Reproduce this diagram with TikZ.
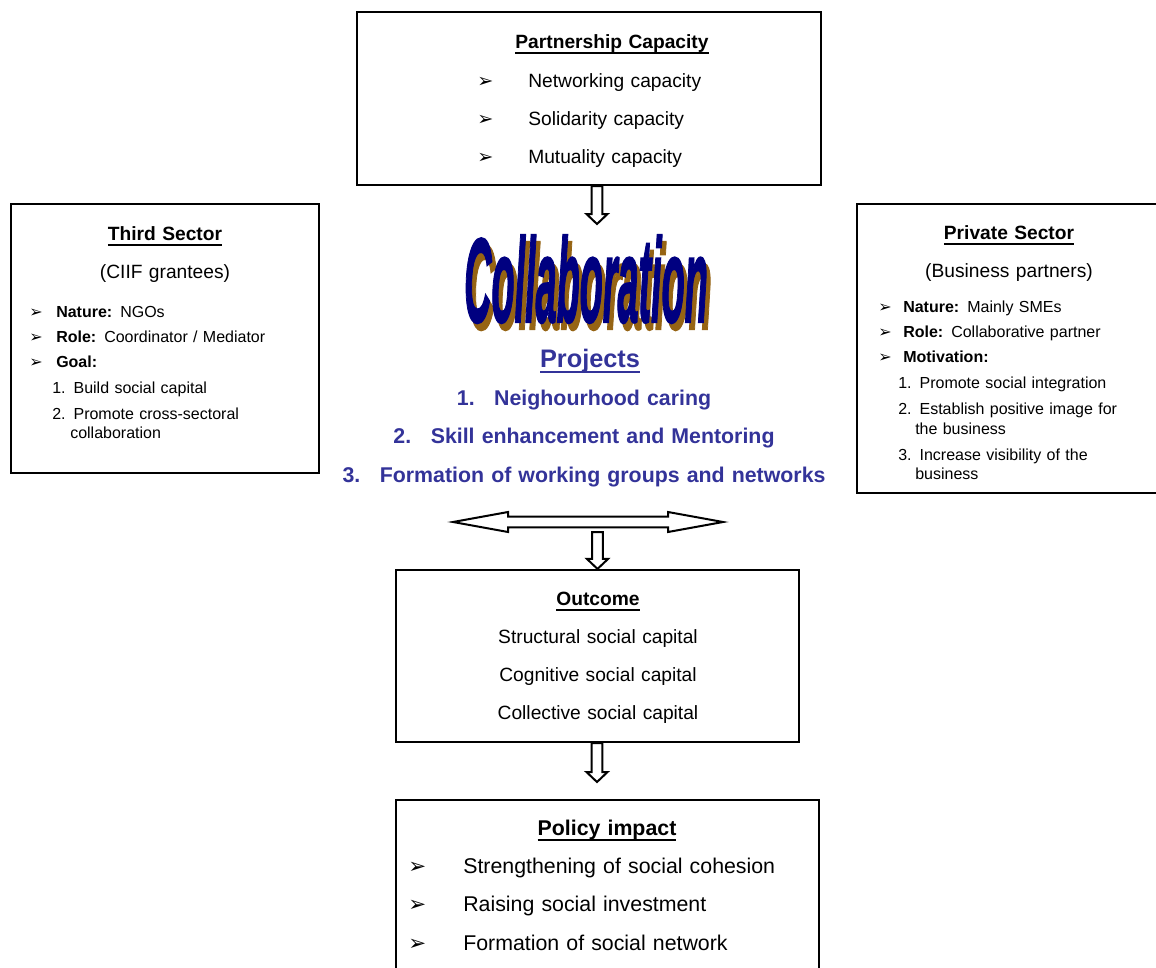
\documentclass[tikz,border=0pt]{standalone}
\usepackage{fontspec}
\setmainfont{Liberation Sans}
\newfontfamily\dingfont{DejaVu Sans}
\newfontfamily\artfont{Liberation Sans}[FakeBold=2]
\usepackage{xcolor}
\usetikzlibrary{fit,calc}

\definecolor{projblue}{RGB}{51,51,153}
\definecolor{artnavy}{RGB}{0,0,128}
\definecolor{artbrown}{RGB}{150,100,20}

\newcommand{\uln}[1]{\setbox0\hbox{#1}\rlap{\rule[-4.2pt]{\wd0}{1.1pt}}\box0}
\newcommand{\bul}{{\dingfont\char"27A2}}
\newcommand{\bitem}[1]{\makebox[#1][l]{\bul}}
\newcommand{\artword}{\scalebox{0.63}[2.0]{\artfont\fontsize{45}{45}\selectfont\bfseries\itshape Collaboration}}
\newcommand{\hollowdown}[2]{%
  \draw[hollow] let \p1=(#1), \p2=(#2) in
    (\x2-4.1pt,\y1) -- (\x2+4.1pt,\y1) -- (\x2+4.1pt,\y2+7.5pt) -- (\x2+7.9pt,\y2+7.5pt)
    -- (\x2,\y2) -- (\x2-7.9pt,\y2+7.5pt) -- (\x2-4.1pt,\y2+7.5pt) -- cycle;}

\begin{document}
\begin{tikzpicture}[x=0.75pt, y=-0.75pt,
  frame/.style={draw, line width=1.6pt, inner sep=0pt},
  head/.style={anchor=base, align=center, text width=300pt, inner sep=0pt, font=\fontsize{14.4}{29}\selectfont},
  list/.style={anchor=base west, align=left, text width=300pt, inner sep=0pt},
  side/.style={list, font=\fontsize{12}{14.6}\selectfont},
  hollow/.style={draw, line width=1.5pt, fill=white, line join=miter}]
  \useasboundingbox (0,0) rectangle (1156,967);

  \node[frame, fit={(357,12) (821,185)}] (cap) {};
  \node[head] (capt) at (612,48) {\uln{\textbf{Partnership Capacity}}};
  \node[list, font=\fontsize{14.4}{28.7}\selectfont] (capl) at (477,87) {\bitem{38.25pt}Networking capacity\\ \bitem{38.25pt}Solidarity capacity\\ \bitem{38.25pt}Mutuality capacity};

  \node[frame, fit={(11,204) (319,473)}] (third) {};
  \node[head] (thirdt) at (165,240) {\uln{\textbf{Third Sector}}\\ (CIIF grantees)};
  \node[side] (thirdl) at (29,317) {\bitem{20.25pt}\textbf{Nature:} NGOs\\[4.2pt] \bitem{20.25pt}\textbf{Role:} Coordinator / Mediator\\[4.2pt] \bitem{20.25pt}\textbf{Goal:}\\[4.9pt] \hspace*{17.25pt}1. Build social capital\\[4.9pt] \hspace*{17.25pt}2. Promote cross-sectoral\\ \hspace*{30.75pt}collaboration};

  \node[frame, fit={(857,204) (1161,493)}] (priv) {};
  \node[head] (privt) at (1009,239) {\uln{\textbf{Private Sector}}\\ (Business partners)};
  \node[side] (privl) at (878,312) {\bitem{18.75pt}\textbf{Nature:} Mainly SMEs\\[4.2pt] \bitem{18.75pt}\textbf{Role:} Collaborative partner\\[4.2pt] \bitem{18.75pt}\textbf{Motivation:}\\[5.4pt] \hspace*{15pt}1. Promote social integration\\[4.9pt] \hspace*{15pt}2. Establish positive image for\\ \hspace*{27.75pt}the business\\[4.9pt] \hspace*{15pt}3. Increase visibility of the\\ \hspace*{27.75pt}business};

  \node[anchor=base, inner sep=0pt, text=artbrown] (artsh) at (590,329) {\artword};
  \node[anchor=base, inner sep=0pt, text=artnavy] (art) at (586,322) {\artword};
  \node[anchor=base, inner sep=0pt, text=projblue, font=\fontsize{19}{19}\selectfont\bfseries] (proj) at (590,367) {\uln{Projects}};
  \node[head, text width=400pt, text=projblue, font=\fontsize{16}{28.9}\selectfont\bfseries] (projl) at (584,405) {\makebox[28pt][l]{1.}Neighourhood caring\\ \makebox[28pt][l]{2.}Skill enhancement and Mentoring\\ \makebox[28pt][l]{3.}Formation of working groups and networks};

  \coordinate (lkl) at (453,522);
  \coordinate (lkr) at (723,522);
  \draw[hollow] let \p1=(lkl), \p2=(lkr) in (\p1) -- (\x1+41.25pt,\y1+7.5pt) -- (\x1+41.25pt,\y1+4.1pt) -- (\x2-41.25pt,\y1+4.1pt) -- (\x2-41.25pt,\y1+7.5pt) -- (\p2) -- (\x2-41.25pt,\y1-7.5pt) -- (\x2-41.25pt,\y1-4.1pt) -- (\x1+41.25pt,\y1-4.1pt) -- (\x1+41.25pt,\y1-7.5pt) -- cycle;

  \node[frame, fit={(396,570) (799,742)}] (out) {};
  \node[head, font=\fontsize{14.4}{28.7}\selectfont] (outt) at (598,605) {\uln{\textbf{Outcome}}\\ Structural social capital\\ Cognitive social capital\\ Collective social capital};

  \node[frame, fit={(396,800) (819,990)}] (pol) {};
  \node[head, font=\fontsize{16}{28.9}\selectfont] (polt) at (607,835) {\uln{\textbf{Policy impact}}};
  \node[list, font=\fontsize{16}{28.9}\selectfont] (poll) at (408,873) {\bitem{41.25pt}Strengthening of social cohesion\\ \bitem{41.25pt}Raising social investment\\ \bitem{41.25pt}Formation of social network};

  \coordinate (tip1) at (597,224);
  \coordinate (split) at (597,532);
  \coordinate (tip3) at (597,782);
  \hollowdown{cap.south}{tip1}
  \hollowdown{split}{out.north}
  \hollowdown{out.south}{tip3}
\end{tikzpicture}
\end{document}
